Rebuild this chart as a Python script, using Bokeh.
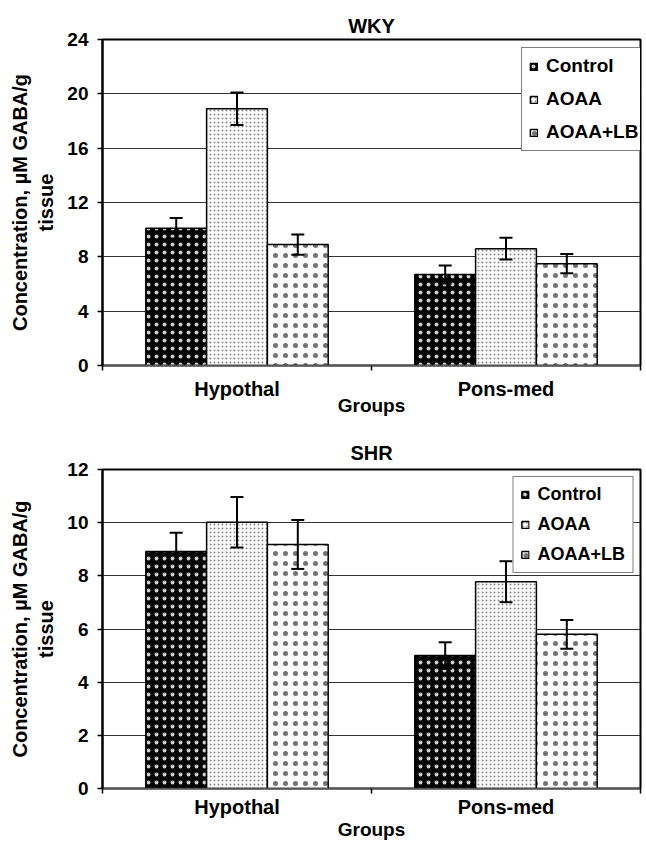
from bokeh.plotting import figure
from bokeh.models import (ColumnDataSource, Range1d, FixedTicker, LinearAxis, Whisker,
                          TeeHead, Legend, LegendItem, Title)
from bokeh.layouts import column
from bokeh.embed import file_html
from bokeh.resources import INLINE

# ---------------- data ----------------
categories = ["Hypothal", "Pons-med"]
series = ["Control", "AOAA", "AOAA+LB"]

wky_control = [10.1, 6.7]
wky_aoaa = [18.9, 8.6]
wky_aoaa_lb = [8.9, 7.5]
wky_control_err = [0.75, 0.67]
wky_aoaa_err = [1.2, 0.8]
wky_aoaa_lb_err = [0.75, 0.7]

shr_control = [8.92, 5.0]
shr_aoaa = [10.02, 7.78]
shr_aoaa_lb = [9.18, 5.8]
shr_control_err = [0.7, 0.5]
shr_aoaa_err = [0.95, 0.77]
shr_aoaa_lb_err = [0.92, 0.54]

wky_ticks = [0, 4, 8, 12, 16, 20, 24]
shr_ticks = [0, 2, 4, 6, 8, 10, 12]

y_label = "Concentration, \u00b5M GABA/g\ntissue"
x_label = "Groups"

FONT = "Liberation Sans"

# ---------------- styles ----------------
styles = [
    dict(fill_color="black", hatch_pattern="dot", hatch_color="white",
         hatch_scale=8, hatch_alpha=0.8),
    dict(fill_color="white", hatch_pattern="dot", hatch_color="black",
         hatch_scale=4, hatch_alpha=0.45),
    dict(fill_color="white", hatch_pattern="dot", hatch_color="black",
         hatch_scale=10, hatch_alpha=0.55),
]

BAR_W = 0.226
OFFSETS = [-BAR_W, 0.0, BAR_W]


def make_chart(title, values, errors, ticks, height, border_top, border_bottom,
               border_right, title_standoff, label_standoff, axlabel_standoff,
               legend_kw, legend_font, legend_spacing):
    n = len(categories)
    p = figure(width=646, height=height,
               x_range=Range1d(0, n), y_range=Range1d(ticks[0], ticks[-1]),
               x_axis_type=None, output_backend="svg", toolbar_location=None,
               min_border_left=102, min_border_right=border_right,
               min_border_top=border_top, min_border_bottom=border_bottom,
               background_fill_color="white", border_fill_color="white")
    p.title = Title(text=title, align="center", text_font=FONT,
                    text_font_size="20px", text_font_style="bold",
                    standoff=title_standoff, text_color="black")

    ya = p.yaxis[0]
    ya.ticker = FixedTicker(ticks=ticks)
    ya.axis_label = y_label
    ya.axis_label_text_font = FONT
    ya.axis_label_text_font_size = "20px"
    ya.axis_label_text_font_style = "bold"
    ya.axis_label_text_color = "black"
    ya.axis_label_standoff = 7
    ya.major_label_text_font = FONT
    ya.major_label_text_font_size = "19px"
    ya.major_label_text_font_style = "bold"
    ya.major_label_text_color = "black"
    ya.major_label_standoff = 9
    ya.major_tick_in = 0
    ya.major_tick_out = 5
    ya.minor_tick_line_color = None
    ya.axis_line_width = 2
    ya.major_tick_line_width = 1.5

    centers = [i + 0.5 for i in range(n)]
    xa = LinearAxis(ticker=FixedTicker(ticks=centers, minor_ticks=list(range(n + 1))))
    xa.major_label_overrides = {c: cat for c, cat in zip(centers, categories)}
    xa.major_tick_line_color = None
    xa.major_tick_out = 5
    xa.major_tick_in = 0
    xa.minor_tick_out = 5
    xa.minor_tick_in = 0
    xa.minor_tick_line_color = "black"
    xa.minor_tick_line_width = 1.5
    xa.axis_line_width = 1.5
    xa.axis_line_color = "#555555"
    xa.major_label_text_font = FONT
    xa.major_label_text_font_size = "20px"
    xa.major_label_text_font_style = "bold"
    xa.major_label_text_color = "black"
    xa.major_label_standoff = label_standoff
    xa.axis_label = x_label
    xa.axis_label_text_font = FONT
    xa.axis_label_text_font_size = "19px"
    xa.axis_label_text_font_style = "bold"
    xa.axis_label_text_color = "black"
    xa.axis_label_standoff = axlabel_standoff
    p.add_layout(xa, "below")

    p.xgrid.visible = False
    p.ygrid.ticker = FixedTicker(ticks=ticks)
    p.ygrid.grid_line_color = "#333333"
    p.ygrid.grid_line_width = 1
    p.outline_line_color = "black"
    p.outline_line_width = 2

    items = []
    whiskers = []
    for name, vals, errs, off, st in zip(series, values, errors, OFFSETS, styles):
        src = ColumnDataSource(dict(
            x=[c + off for c in centers],
            top=vals,
            upper=[v + e for v, e in zip(vals, errs)],
            lower=[v - e for v, e in zip(vals, errs)],
        ))
        r = p.vbar(x="x", top="top", bottom=0, width=BAR_W, source=src,
                   line_color="black", line_width=1.5, **st)
        items.append(LegendItem(label=name, renderers=[r]))
        w = Whisker(source=src, base="x", upper="upper", lower="lower",
                    line_color="black", line_width=2, level="glyph",
                    upper_head=TeeHead(size=13, line_width=2, line_color="black"),
                    lower_head=TeeHead(size=13, line_width=2, line_color="black"))
        whiskers.append(w)
    for w in whiskers:
        p.add_layout(w)

    legend = Legend(items=items, label_text_font=FONT, label_text_font_size=legend_font,
                    label_text_font_style="bold", label_text_color="black",
                    glyph_width=9, glyph_height=9, label_standoff=8,
                    label_height=20, spacing=legend_spacing, padding=7,
                    border_line_color="black", border_line_width=1,
                    background_fill_color="white", background_fill_alpha=1.0,
                    **legend_kw)
    p.add_layout(legend)
    return p


p1 = make_chart("WKY",
                [wky_control, wky_aoaa, wky_aoaa_lb],
                [wky_control_err, wky_aoaa_err, wky_aoaa_lb_err],
                wky_ticks, height=418, border_top=39, border_bottom=53, border_right=2,
                title_standoff=5, label_standoff=7, axlabel_standoff=-8,
                legend_kw=dict(location=(419, 214), margin=0), legend_font="19px",
                legend_spacing=11)

p2 = make_chart("SHR",
                [shr_control, shr_aoaa, shr_aoaa_lb],
                [shr_control_err, shr_aoaa_err, shr_aoaa_lb_err],
                shr_ticks, height=424, border_top=51, border_bottom=51, border_right=6,
                title_standoff=11, label_standoff=2, axlabel_standoff=-2,
                legend_kw=dict(location="top_right", margin=7), legend_font="18px",
                legend_spacing=9)

layout = column(p1, p2, spacing=0)
open("out.html", "w").write(file_html(layout, INLINE))
